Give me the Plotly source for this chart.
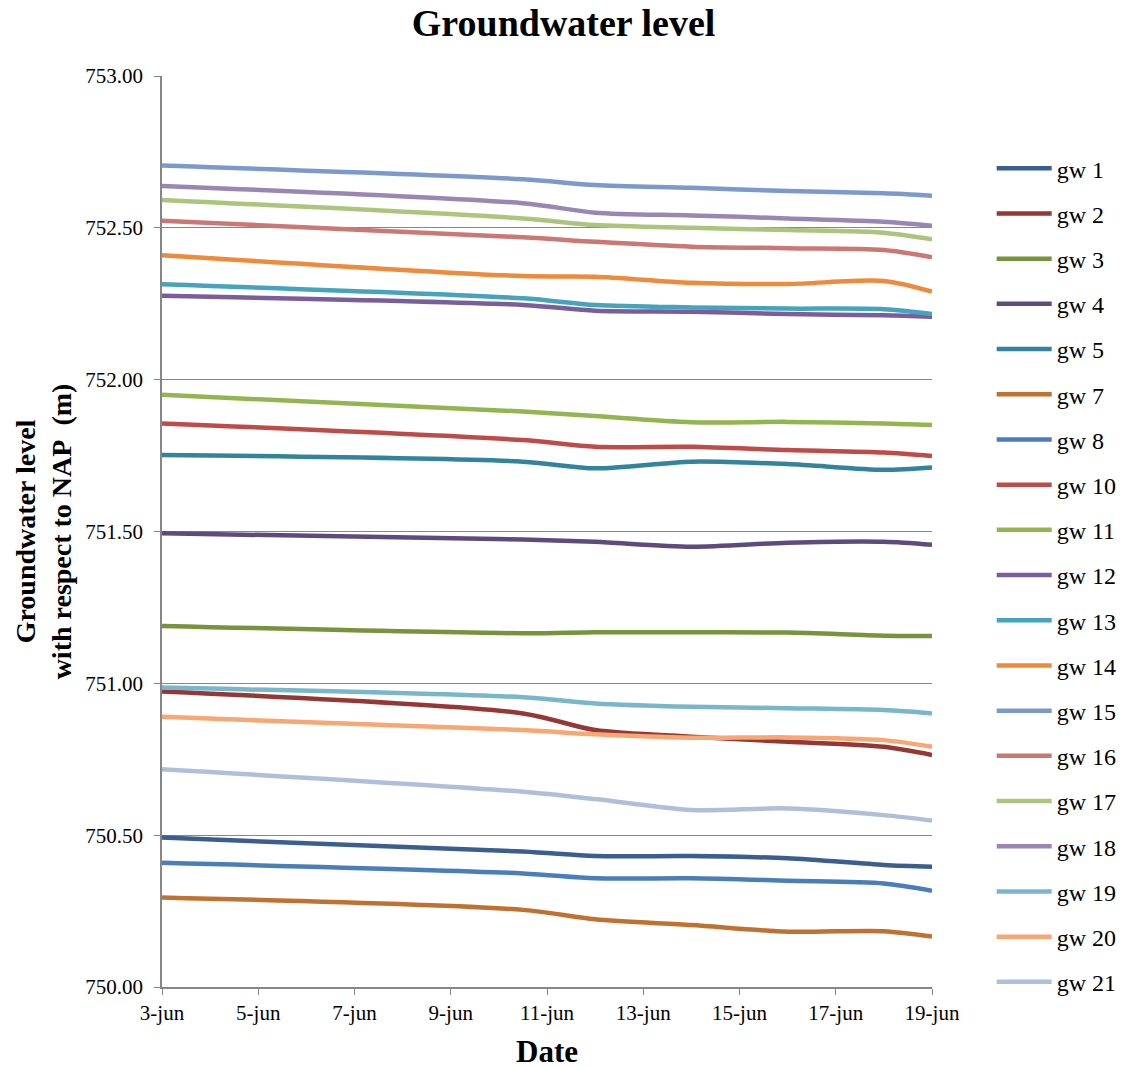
import plotly.graph_objects as go

# Measurement days (June)
days = [3, 10.5, 12, 14, 16, 18, 19]

tick_days = [3, 5, 7, 9, 11, 13, 15, 17, 19]
tick_labels = ["3-jun", "5-jun", "7-jun", "9-jun", "11-jun", "13-jun", "15-jun", "17-jun", "19-jun"]

series_names = ["gw 1", "gw 2", "gw 3", "gw 4", "gw 5", "gw 7", "gw 8", "gw 10", "gw 11",
                "gw 12", "gw 13", "gw 14", "gw 15", "gw 16", "gw 17", "gw 18", "gw 19",
                "gw 20", "gw 21"]

gw1 = [750.492, 750.446, 750.431, 750.431, 750.424, 750.402, 750.396]
gw2 = [750.973, 750.901, 750.846, 750.824, 750.808, 750.791, 750.764]
gw3 = [751.189, 751.165, 751.168, 751.168, 751.167, 751.157, 751.156]
gw4 = [751.494, 751.474, 751.466, 751.450, 751.463, 751.466, 751.456]
gw5 = [751.752, 751.730, 751.708, 751.730, 751.722, 751.703, 751.711]
gw7 = [750.295, 750.254, 750.223, 750.204, 750.182, 750.184, 750.166]
gw8 = [750.409, 750.374, 750.358, 750.358, 750.350, 750.341, 750.317]
gw10 = [751.856, 751.801, 751.779, 751.779, 751.768, 751.760, 751.749]
gw11 = [751.950, 751.895, 751.880, 751.860, 751.861, 751.856, 751.851]
gw12 = [752.276, 752.246, 752.227, 752.224, 752.216, 752.212, 752.207]
gw13 = [752.314, 752.268, 752.246, 752.238, 752.234, 752.232, 752.216]
gw14 = [752.410, 752.341, 752.339, 752.319, 752.315, 752.325, 752.290]
gw15 = [752.705, 752.660, 752.641, 752.632, 752.621, 752.614, 752.606]
gw16 = [752.523, 752.469, 752.454, 752.438, 752.433, 752.427, 752.403]
gw17 = [752.592, 752.531, 752.509, 752.500, 752.493, 752.484, 752.462]
gw18 = [752.638, 752.581, 752.550, 752.541, 752.531, 752.520, 752.507]
gw19 = [750.986, 750.954, 750.934, 750.923, 750.918, 750.912, 750.901]
gw20 = [750.890, 750.846, 750.832, 750.821, 750.822, 750.813, 750.791]
gw21 = [750.717, 750.643, 750.619, 750.583, 750.588, 750.566, 750.548]

series_values = [gw1, gw2, gw3, gw4, gw5, gw7, gw8, gw10, gw11, gw12, gw13, gw14,
                 gw15, gw16, gw17, gw18, gw19, gw20, gw21]

colors = ["#3A5F8F", "#953735", "#77933C", "#5F4A7E", "#31849B", "#C0712F", "#4A7EBB",
          "#BE4B48", "#93B54F", "#7A5D9D", "#45A3BC", "#EE8A3A", "#7B9ACB", "#CD7775",
          "#ABC57C", "#9A86B4", "#78B6CB", "#F8A672", "#AFBFDA"]

fig = go.Figure()
for i, (name, vals, col) in enumerate(zip(series_names, series_values, colors)):
    fig.add_trace(go.Scatter(
        x=days, y=vals, name=name, mode="lines",
        line=dict(color=col, width=4.5, shape="spline", smoothing=0.8),
        legendgroup=f"g{i}",
    ))

serif = "Liberation Serif"
fig.update_layout(
    width=1134, height=1069,
    margin=dict(l=162, r=199, t=76, b=82),
    paper_bgcolor="white", plot_bgcolor="white",
    font=dict(family=serif, color="black", size=16),
    title=dict(text="<b>Groundwater level</b>", x=0.497, xanchor="center",
               y=0.979, yanchor="middle", font=dict(family=serif, size=38, color="black")),
    showlegend=True,
    legend=dict(x=1.0775, xanchor="left", y=0.923, yanchor="top",
                font=dict(family=serif, size=24, color="black"),
                itemwidth=55, tracegroupgap=11, bgcolor="rgba(0,0,0,0)"),
)
fig.update_xaxes(
    range=[3, 19], tickvals=tick_days, ticktext=tick_labels,
    showgrid=False, zeroline=False, automargin=False,
    showline=True, linecolor="#868686", linewidth=1.5,
    ticks="outside", ticklen=6, tickcolor="#868686",
    tickfont=dict(family=serif, size=21),
    title=dict(text="<b>Date</b>", font=dict(family=serif, size=31), standoff=16),
)
fig.update_yaxes(
    range=[750, 753], tickvals=[750, 750.5, 751, 751.5, 752, 752.5, 753], tickformat=".2f",
    showgrid=True, gridcolor="#868686", gridwidth=1.2, zeroline=False, automargin=False,
    showline=True, linecolor="#868686", linewidth=1.5,
    ticks="outside", ticklen=6, tickcolor="#868686",
    tickfont=dict(family=serif, size=21), ticklabelstandoff=7,
    title=dict(text="<b>Groundwater level<br>with respect to NAP&nbsp; (m)</b>",
               font=dict(family=serif, size=28), standoff=5),
)

fig.write_html("out.html")
